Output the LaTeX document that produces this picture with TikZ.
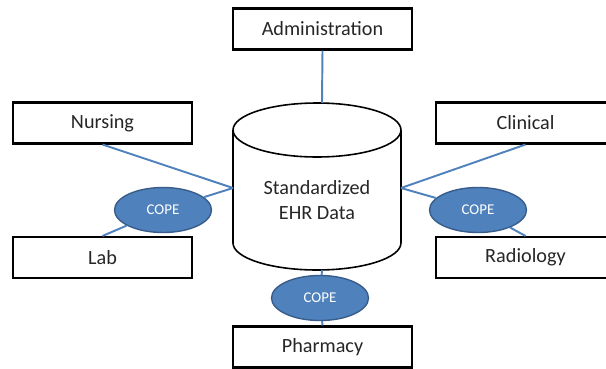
\documentclass[tikz,border=0pt]{standalone}
\usepackage{fontspec}
\setmainfont{Carlito}
\usetikzlibrary{shapes.geometric}
\definecolor{copeblue}{RGB}{79,129,189}
\definecolor{copeedge}{RGB}{56,93,138}
\tikzset{
  dept_box/.style = {rectangle, draw=black, line width=1.2pt, fill=white,
    minimum width=3.58cm, minimum height=0.82cm, inner sep=0pt,
    text=black!85, font=\fontsize{11.5}{13.8}\selectfont},% departement
  cope_n/.style = {ellipse, draw=copeedge, line width=0.8pt, fill=copeblue,
    minimum width=1.94cm, minimum height=0.9cm, inner sep=0pt,
    text=white, font=\fontsize{8.5}{10}\selectfont},% noeud COPE
  ehr_db/.style = {align=center, inner sep=0pt, text=black!85,
    font=\fontsize{11.5}{13.8}\selectfont},% texte de la base
  link/.style = {draw=copeblue, line width=1.1pt}
}
\begin{document}
\begin{tikzpicture}[x=0.02cm,y=-0.02cm]
  \clip (0,0) rectangle (606,369);
  % la base EHR
  \draw[line width=0.9pt] (233,130) -- (233,243)
    arc[start angle=180, end angle=360, x radius=1.68cm, y radius=0.54cm] -- (401,130);
  \draw[line width=0.9pt] (317,130) ellipse [x radius=1.68cm, y radius=0.54cm];
  \node [ehr_db] (ehr) at (317,200) {Standardized\\EHR Data};
  \coordinate (ehr_n) at (322,103);
  \coordinate (ehr_s) at (322,270);
  \coordinate (ehr_w) at (233,188);
  \coordinate (ehr_e) at (401,188);

  \node [dept_box] (adm) at (322.5,29) {Administration};
  \node [dept_box] (nurs) at (102.5,123) {Nursing};
  \node [dept_box] (lab) at (102.5,257.5) {Lab};
  \node [dept_box] (clin) at (525.5,123) {Clinical};
  \node [dept_box] (rad) at (525.5,257.5) {Radiology};
  \node [dept_box] (pharm) at (322.5,347) {Pharmacy};

  \node [cope_n] (cope_l) at (163,210) {COPE};
  \node [cope_n] (cope_r) at (478,210) {COPE};
  \node [cope_n] (cope_b) at (320,298) {COPE};

  \foreach \from/\to in {adm.south/ehr_n,nurs.south/ehr_w,ehr_w/cope_l,
    cope_l/lab.north,clin.south/ehr_e,ehr_e/cope_r,cope_r/rad.north,
    ehr_s/cope_b,cope_b/pharm.north}
    \draw [link] (\from) -- (\to);
\end{tikzpicture}
\end{document}
